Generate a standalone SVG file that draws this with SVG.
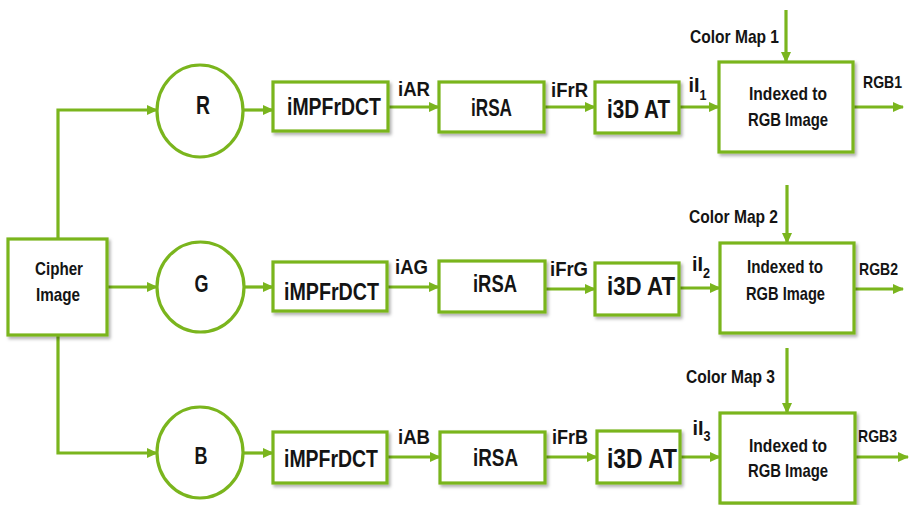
<svg xmlns="http://www.w3.org/2000/svg" width="910" height="505" viewBox="0 0 910 505">
  <defs>
    <marker id="arrow" markerUnits="userSpaceOnUse" markerWidth="11" markerHeight="11" refX="10" refY="5.5" orient="auto">
      <path d="M0,0.5 L11,5.5 L0,10.5 z" fill="#7ab51d"/>
    </marker>
    <filter id="shadow" x="-10%" y="-10%" width="130%" height="130%">
      <feDropShadow dx="2" dy="2.5" stdDeviation="1.5" flood-color="#000" flood-opacity="0.3"/>
    </filter>
  </defs>
  <style>
    .box { fill: #ffffff; stroke: #7ab51d; stroke-width: 3.2; filter: url(#shadow); }
    .circ { fill: #ffffff; stroke: #7ab51d; stroke-width: 3.2; }
    .wire { fill: none; stroke: #7ab51d; stroke-width: 3.2; marker-end: url(#arrow); }
    text { font-family: "Liberation Sans", Arial, sans-serif; font-weight: bold; fill: #141414; text-anchor: middle; }
    .big { font-size: 24px; }
    .mid { font-size: 21px; }
    .sm { font-size: 18.5px; }
    .xs { font-size: 17px; }
  </style>
  <rect width="910" height="505" fill="#ffffff"/>

  <!-- connectors -->
  <g id="connectors">
    <path class="wire" d="M58,239 V110 H157"/>
    <path class="wire" d="M107,287 H157"/>
    <path class="wire" d="M58,335 V453 H157"/>

    <path class="wire" d="M243,110 H273"/>
    <path class="wire" d="M388,107 H439"/>
    <path class="wire" d="M544,107 H595"/>
    <path class="wire" d="M679,107 H719"/>
    <path class="wire" d="M853,107 H903"/>
    <path class="wire" d="M786,10 V62"/>

    <path class="wire" d="M244,287 H273"/>
    <path class="wire" d="M387,287 H439"/>
    <path class="wire" d="M545,289 H595"/>
    <path class="wire" d="M679,288 H720"/>
    <path class="wire" d="M854,289 H903"/>
    <path class="wire" d="M787,185 V243"/>

    <path class="wire" d="M243,453 H273"/>
    <path class="wire" d="M387,457 H440"/>
    <path class="wire" d="M545,457 H597"/>
    <path class="wire" d="M680,457 H720"/>
    <path class="wire" d="M855,457 H908"/>
    <path class="wire" d="M787,348 V413"/>
  </g>

  <!-- source -->
  <g id="cipher">
    <rect class="box" x="8" y="239" width="99" height="96"/>
    <text class="sm" x="59" y="275" textLength="48" lengthAdjust="spacingAndGlyphs">Cipher</text>
    <text class="sm" x="58" y="301" textLength="44" lengthAdjust="spacingAndGlyphs">Image</text>
  </g>

  <!-- channel split -->
  <g id="chanR">
    <ellipse class="circ" cx="200" cy="111" rx="43" ry="46"/>
    <text style="font-size:26px" x="203" y="114" textLength="14" lengthAdjust="spacingAndGlyphs">R</text>
  </g>
  <g id="chanG">
    <ellipse class="circ" cx="200.5" cy="287" rx="43.5" ry="45"/>
    <text style="font-size:24px" x="201.5" y="292" textLength="14" lengthAdjust="spacingAndGlyphs">G</text>
  </g>
  <g id="chanB">
    <ellipse class="circ" cx="200" cy="452.5" rx="43" ry="45.5"/>
    <text style="font-size:24px" x="201" y="464" textLength="13" lengthAdjust="spacingAndGlyphs">B</text>
  </g>

  <!-- row R -->
  <g id="dctR">
    <rect class="box" x="273" y="82" width="115" height="49"/>
    <text class="big" x="334" y="115" textLength="94" lengthAdjust="spacingAndGlyphs">iMPFrDCT</text>
  </g>
  <g id="rsaR">
    <rect class="box" x="439" y="82" width="105" height="50"/>
    <text class="big" x="491.5" y="116" textLength="41" lengthAdjust="spacingAndGlyphs">iRSA</text>
  </g>
  <g id="atR">
    <rect class="box" x="595" y="82" width="84" height="51"/>
    <text style="font-size:25px" x="638.5" y="118" textLength="63" lengthAdjust="spacingAndGlyphs">i3D AT</text>
  </g>
  <g id="rgbR">
    <rect class="box" x="719" y="62" width="134" height="90"/>
    <text class="sm" x="788" y="100" textLength="78" lengthAdjust="spacingAndGlyphs">Indexed to</text>
    <text class="sm" x="788" y="126" textLength="80" lengthAdjust="spacingAndGlyphs">RGB Image</text>
  </g>
  <g id="labelsR">
    <text class="mid" x="414" y="96" textLength="32" lengthAdjust="spacingAndGlyphs">iAR</text>
    <text class="mid" x="569.5" y="97" textLength="37" lengthAdjust="spacingAndGlyphs">iFrR</text>
    <text class="mid" x="694" y="92" textLength="11" lengthAdjust="spacingAndGlyphs">iI</text>
    <text x="703" y="100" style="font-size:14px" textLength="7" lengthAdjust="spacingAndGlyphs">1</text>
    <text class="sm" x="734.5" y="43" textLength="89" lengthAdjust="spacingAndGlyphs">Color Map 1</text>
    <text class="xs" x="882.5" y="88" textLength="39" lengthAdjust="spacingAndGlyphs">RGB1</text>
  </g>

  <!-- row G -->
  <g id="dctG">
    <rect class="box" x="273" y="262" width="114" height="49"/>
    <text class="big" x="331.5" y="300" textLength="95" lengthAdjust="spacingAndGlyphs">iMPFrDCT</text>
  </g>
  <g id="rsaG">
    <rect class="box" x="439" y="261" width="106" height="51"/>
    <text class="big" x="495" y="292" textLength="44" lengthAdjust="spacingAndGlyphs">iRSA</text>
  </g>
  <g id="atG">
    <rect class="box" x="595" y="263" width="84" height="52"/>
    <text style="font-size:25px" x="641" y="295" textLength="68" lengthAdjust="spacingAndGlyphs">i3D AT</text>
  </g>
  <g id="rgbG">
    <rect class="box" x="720" y="243" width="134" height="90"/>
    <text class="sm" x="785" y="273" textLength="76" lengthAdjust="spacingAndGlyphs">Indexed to</text>
    <text class="sm" x="785.5" y="300" textLength="79" lengthAdjust="spacingAndGlyphs">RGB Image</text>
  </g>
  <g id="labelsG">
    <text class="mid" x="411.5" y="274" textLength="33" lengthAdjust="spacingAndGlyphs">iAG</text>
    <text class="mid" x="569" y="276" textLength="38" lengthAdjust="spacingAndGlyphs">iFrG</text>
    <text class="mid" x="697.5" y="271" textLength="11" lengthAdjust="spacingAndGlyphs">iI</text>
    <text x="706.5" y="278" style="font-size:14px" textLength="7" lengthAdjust="spacingAndGlyphs">2</text>
    <text class="sm" x="733.5" y="223" textLength="89" lengthAdjust="spacingAndGlyphs">Color Map 2</text>
    <text class="xs" x="878.5" y="275" textLength="39" lengthAdjust="spacingAndGlyphs">RGB2</text>
  </g>

  <!-- row B -->
  <g id="dctB">
    <rect class="box" x="273" y="432" width="114" height="51"/>
    <text class="big" x="331" y="467" textLength="94" lengthAdjust="spacingAndGlyphs">iMPFrDCT</text>
  </g>
  <g id="rsaB">
    <rect class="box" x="440" y="432" width="105" height="51"/>
    <text class="big" x="495.5" y="466" textLength="45" lengthAdjust="spacingAndGlyphs">iRSA</text>
  </g>
  <g id="atB">
    <rect class="box" x="597" y="431" width="83" height="52"/>
    <text style="font-size:27px" x="642" y="468" textLength="70" lengthAdjust="spacingAndGlyphs">i3D AT</text>
  </g>
  <g id="rgbB">
    <rect class="box" x="720" y="413" width="135" height="90"/>
    <text class="sm" x="788" y="452" textLength="78" lengthAdjust="spacingAndGlyphs">Indexed to</text>
    <text class="sm" x="788" y="477" textLength="80" lengthAdjust="spacingAndGlyphs">RGB Image</text>
  </g>
  <g id="labelsB">
    <text class="mid" x="414" y="444" textLength="32" lengthAdjust="spacingAndGlyphs">iAB</text>
    <text class="mid" x="570" y="444" textLength="36" lengthAdjust="spacingAndGlyphs">iFrB</text>
    <text class="mid" x="698" y="435" textLength="11" lengthAdjust="spacingAndGlyphs">iI</text>
    <text x="707" y="441" style="font-size:14px" textLength="7" lengthAdjust="spacingAndGlyphs">3</text>
    <text class="sm" x="730.5" y="383" textLength="89" lengthAdjust="spacingAndGlyphs">Color Map 3</text>
    <text class="xs" x="877.5" y="442" textLength="39" lengthAdjust="spacingAndGlyphs">RGB3</text>
  </g>
</svg>
